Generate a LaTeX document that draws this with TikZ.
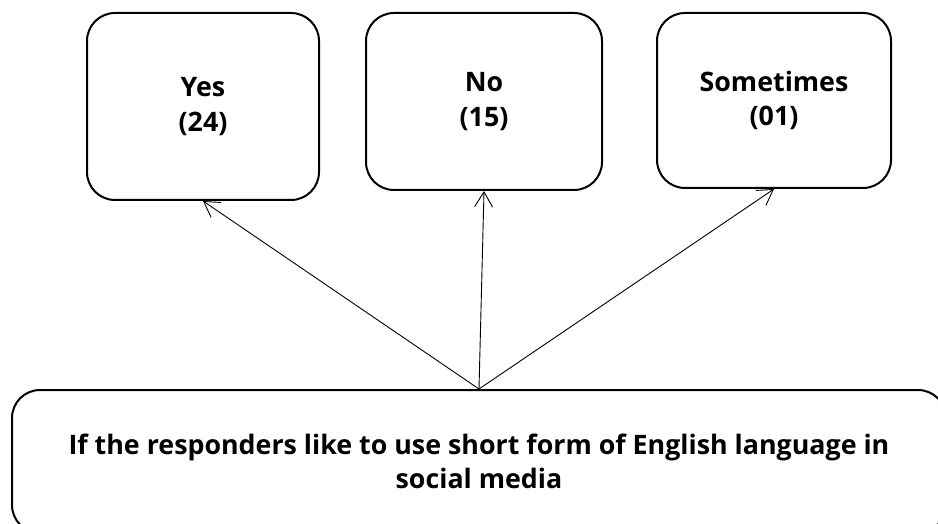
\documentclass[tikz,border=0pt]{standalone}
\usepackage{fontspec}
\setmainfont{Open Sans}
\usetikzlibrary{arrows.meta}
\tikzset{
  choice/.style={draw, line width=2pt, rounded corners=28pt, align=center,
    font=\bfseries\fontsize{26.8}{34.5}\selectfont, inner sep=0pt},
  link/.style={line width=0.9pt, -{Straight Barb[length=15pt,width=18pt]}}
}
\begin{document}
\begin{tikzpicture}[x=1pt,y=-1pt]
\clip (0,0) rectangle (938,524);
\useasboundingbox (0,0) rectangle (938,524);
\node[choice, minimum width=232pt, minimum height=187pt] (yes) at (203,106.5) {Yes\\(24)};
\node[choice, minimum width=236pt, minimum height=177pt] (no) at (484,101.5) {No\\(15)};
\node[choice, minimum width=234pt, minimum height=175pt] (some) at (774,100.5) {Sometimes\\(01)};
\node[choice, minimum width=934pt, minimum height=143pt] (q) at (479,461.5)
  {If the responders like to use short form of English language in\\social media};
\coordinate (src) at (q.north);
\draw[link] (src) -- (yes.south);
\draw[link] (src) -- (no.south);
\draw[link] (src) -- (some.south);
\end{tikzpicture}
\end{document}
